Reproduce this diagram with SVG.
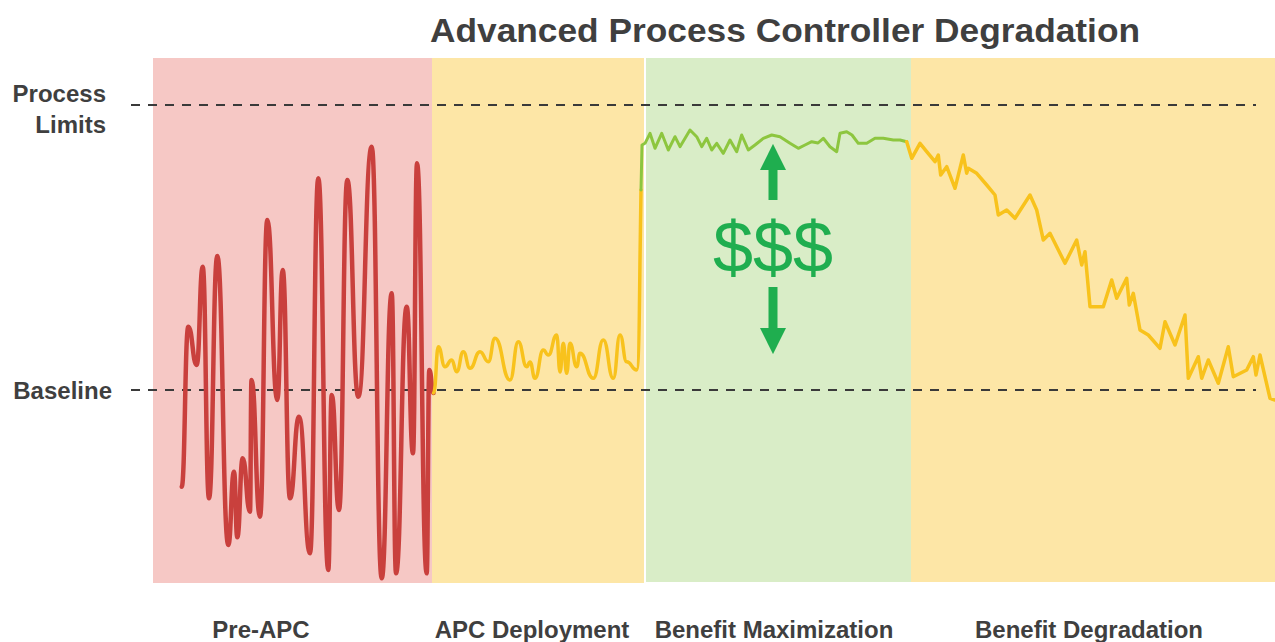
<svg xmlns="http://www.w3.org/2000/svg" width="1275" height="642" viewBox="0 0 1275 642">
<style>
.lbl{font-family:"Liberation Sans",Arial,sans-serif;font-weight:bold;font-size:24px;fill:#3f3f3f}
.dash{stroke:#3a3a3a;stroke-width:2;stroke-dasharray:9 8;fill:none}
.ln{fill:none;stroke-linejoin:round;stroke-linecap:round}
</style>
<defs>
<marker id="ah" viewBox="0 0 10 10" refX="0" refY="5" markerWidth="2.9" markerHeight="2.9" orient="auto" markerUnits="strokeWidth">
<path d="M0,0 L10,5 L0,10 Z" fill="#1fae4f"/>
</marker>
</defs>
<rect width="1275" height="642" fill="#ffffff"/>
<g id="zones">
<rect id="zone-pre" x="153" y="58" width="279" height="525" fill="#f6c8c5"/>
<rect id="zone-deploy" x="432" y="58" width="212" height="525" fill="#fde6a6"/>
<rect id="zone-max" x="646" y="58" width="265" height="524" fill="#d9edc7"/>
<rect id="zone-degr" x="911" y="58" width="364" height="524" fill="#fde6a6"/>
</g>
<text class="lbl" x="785" y="42" text-anchor="middle" style="font-size:34px" textLength="710" lengthAdjust="spacingAndGlyphs">Advanced Process Controller Degradation</text>
<g id="axis-labels">
<text class="lbl" x="106" y="102" text-anchor="end">Process</text>
<text class="lbl" x="106" y="133" text-anchor="end">Limits</text>
<text class="lbl" x="112" y="399" text-anchor="end">Baseline</text>
</g>
<g id="connectors">
<line class="dash" x1="131" y1="105" x2="1256" y2="105"/>
<line class="dash" x1="131" y1="390" x2="1256" y2="390"/>
</g>
<g id="signal-pre">
<path class="ln" stroke="#c9403d" stroke-width="4.5" d="M181.7,486.7
C185,486.7 185,326.7 188.3,326.7
C192.5,326.7 192.5,365 196.7,365
C199.7,365 199.7,266.7 202.7,266.7
C205.85,266.7 205.85,498.3 209,498.3
C213.15,498.3 213.15,256 217.3,256
C222.8,256 222.8,545 228.3,545
C231.15,545 231.15,471.7 234,471.7
C235.65,471.7 235.65,537.3 237.3,537.3
C240,537.3 240,458.3 242.7,458.3
C246.35,458.3 246.35,511.7 250,511.7
C250.75,511.7 250.75,380 251.5,380
C255.75,380 255.75,516.7 260,516.7
C263.65,516.7 263.65,220 267.3,220
C272.3,220 272.3,400 277.3,400
C280,400 280,270 282.7,270
C286.35,270 286.35,498.3 290,498.3
C294.5,498.3 294.5,416.7 299,416.7
C304.5,416.7 304.5,553.3 310,553.3
C314.15,553.3 314.15,178.3 318.3,178.3
C323.3,178.3 323.3,570 328.3,570
C330,570 330,395 331.7,395
C335.35,395 335.35,510 339,510
C343.15,510 343.15,180 347.3,180
C352.8,180 352.8,396.7 358.3,396.7
C365,396.7 365,146.7 371.7,146.7
C376.7,146.7 376.7,578.3 381.7,578.3
C386.7,578.3 386.7,293.3 391.7,293.3
C393.85,293.3 393.85,573.3 396,573.3
C401.35,573.3 401.35,306.7 406.7,306.7
C409.85,306.7 409.85,453.3 413,453.3
C415,453.3 415,163.3 417,163.3
C421.85,163.3 421.85,573.3 426.7,573.3
C428,573.3 428,370 429.3,370
C431.4,370 431.4,393 433.5,393"/>
</g>
<g id="signal-deploy">
<path class="ln" stroke="#f8c21c" stroke-width="3.5" d="M433.5,393
C436.15,393 436.15,346.7 438.3,346.7
C441.65,346.7 441.65,366.7 445,366.7
C448.35,366.7 448.35,360 451.7,360
C454.2,360 454.2,371.7 456.7,371.7
C460,371.7 460,351.7 463.3,351.7
C466.65,351.7 466.65,368.3 470,368.3
C475,368.3 475,351.7 480,351.7
C484.15,351.7 484.15,361.7 488.3,361.7
C491.65,361.7 491.65,338.3 495,338.3
C502.5,338.3 502.5,380 510,380
C514.15,380 514.15,341.7 518.3,341.7
C522.5,341.7 522.5,366.7 526.7,366.7
C528.35,366.7 528.35,362 530,362
C532.5,362 532.5,378.3 535,378.3
C539.15,378.3 539.15,350 543.3,350
C545.8,350 545.8,355 548.3,355
C552.5,355 552.5,335 556.7,335
C558.35,335 558.35,372 560,372
C561.65,372 561.65,343.3 563.3,343.3
C565,343.3 565,373.3 566.7,373.3
C568.35,373.3 568.35,343.3 570,343.3
C573.35,343.3 573.35,366.7 576.7,366.7
C578.35,366.7 578.35,353.3 580,353.3
C586.65,353.3 586.65,378.3 593.3,378.3
C598.3,378.3 598.3,340 603.3,340
C608.3,340 608.3,378.3 613.3,378.3
C616.65,378.3 616.65,335 620,335
C623.35,335 623.35,361.7 626.7,361.7
C631.7,361.7 631.7,370 636.7,370
C639,370 639.5,300 640,260 L641,190"/>
</g>
<g id="signal-max">
<polyline class="ln" stroke="#8dc63f" stroke-width="3" points="641,190 642,145 645,143.3 650,133.3 655,148.3 661.7,133.3 668.3,150 675,136.7 680,146.7 690,130 696.7,136.7 701.7,146.7 706.7,138.3 711.7,150 716.7,143.3 723.3,153.3 730,140 736.7,151.7 741.7,135 748.3,150 755,145 763.3,138.3 771.7,135 780,136.7 790,143.3 798.3,148.3 805,145 811.7,141.7 818,143 823.3,138.3 830,146.7 836.7,151.7 840,133.3 846.7,131.7 852,135 858.3,143.3 866.7,143.3 875,138.3 883.3,138.3 893.3,140 900,140 906.7,141.7"/>
</g>
<g id="signal-degr">
<polyline class="ln" stroke="#f8c21c" stroke-width="3.5" points="906.7,141.7 911.7,158.3 920,143.3 926.7,151.7 935,161.7 938.3,155 940.7,175 946.7,166.7 955,188.3 963.3,155 966.7,173.3 968.3,168.3 976.7,173.3 986.7,185 995,195 998.3,215 1006.7,210 1015,218.3 1030,195 1036.7,210 1043.3,240 1050,233.3 1065,263.3 1076.7,240 1081.7,265 1085,251.7 1090,306.7 1103.3,306.7 1111.7,280 1116.7,298.3 1126.7,278.3 1129.3,305 1133.3,293.3 1140,330 1148.3,335 1160,348.3 1165,321.7 1175,345 1185,315 1188.3,378.3 1198.3,356.7 1201.7,378.3 1208.3,360 1218.3,383.3 1228.3,346.7 1233.3,376.7 1246.7,370 1253.3,356.7 1256,375 1260,355 1270,398.3 1275,400"/>
</g>
<g id="benefit">
<line x1="773" y1="200" x2="773" y2="170" stroke="#1fae4f" stroke-width="9" marker-end="url(#ah)"/>
<line x1="773" y1="287" x2="773" y2="328" stroke="#1fae4f" stroke-width="9" marker-end="url(#ah)"/>
<text x="773" y="272" text-anchor="middle" font-family="Liberation Sans, Arial, sans-serif" font-size="72" fill="#1fae4f">$$$</text>
</g>
<g id="phase-labels">
<text class="lbl" x="261" y="638" text-anchor="middle">Pre-APC</text>
<text class="lbl" x="532" y="638" text-anchor="middle">APC Deployment</text>
<text class="lbl" x="774" y="638" text-anchor="middle">Benefit Maximization</text>
<text class="lbl" x="1089" y="638" text-anchor="middle">Benefit Degradation</text>
</g>
</svg>
